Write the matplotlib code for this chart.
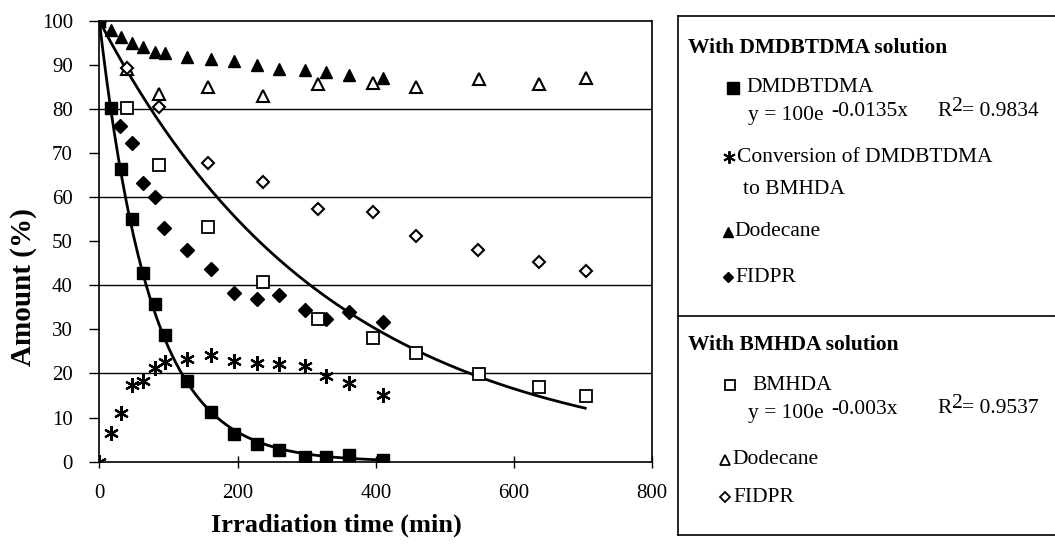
import numpy as np
import matplotlib
matplotlib.use("Agg")
import matplotlib.pyplot as plt
from matplotlib.lines import Line2D

plt.rcParams['font.family'] = ['Liberation Serif', 'DejaVu Serif']

# ---- data ----
t_dmd = [0, 16.5, 31, 47, 63.7, 80.6, 95, 126.5, 162, 195, 228, 260.5, 298, 328, 361, 410]
dmdbtdma = [100, 80.3, 66.4, 55.0, 42.7, 35.8, 28.7, 18.4, 11.3, 6.3, 4.0, 2.7, 1.1, 1.1, 1.5, 0.4]
conversion = [0, 6.4, 11.1, 17.4, 18.4, 21.2, 22.5, 23.2, 24.2, 22.8, 22.3, 22.2, 21.7, 19.4, 17.9, 15.1]
dodecane_dmd = [100, 98.0, 96.4, 94.9, 94.0, 92.9, 92.6, 91.7, 91.4, 90.9, 89.9, 89.1, 88.8, 88.4, 87.7, 86.9]
t_fid = [0, 30, 47, 63, 80.6, 93.6, 126.5, 161.6, 195, 227.8, 260.5, 297.7, 328, 361, 410]
fidpr_dmd = [100, 76.1, 72.3, 63.3, 60.0, 52.9, 48.0, 43.8, 38.2, 37.0, 37.9, 34.5, 32.3, 34.0, 31.7]

t_bm = [0, 39.6, 86.8, 157.7, 236.4, 317, 396.5, 458, 549.5, 636.3, 704]
bmhda = [100, 80.1, 67.3, 53.3, 40.8, 32.3, 28.0, 24.6, 19.9, 16.9, 15.0]
dodecane_bm = [100, 89.0, 83.4, 84.9, 82.9, 85.6, 85.9, 85.0, 86.7, 85.6, 86.9]
t_bm_fid = [0, 39.6, 86.8, 157.7, 236.4, 317, 396.5, 458, 548.5, 636.3, 704]
fidpr_bm = [100, 89.2, 80.5, 67.7, 63.5, 57.3, 56.7, 51.2, 48.0, 45.2, 43.3]

# exponential fit coefficients (y = A e^{k x}) and range drawn
fit_A = [100, 100]
fit_k = [-0.0135, -0.003]
fit_xmax = [415, 703]

x_ticks = [0, 200, 400, 600, 800]
y_ticks = [0, 10, 20, 30, 40, 50, 60, 70, 80, 90, 100]

W, H = 1055, 545
fig = plt.figure(figsize=(W / 100, H / 100), dpi=100)
def fx(px): return px / W
def fy(py): return 1 - py / H

ax_l, ax_r, ax_t, ax_b = 99.3, 652.3, 20.7, 461.7
ax = fig.add_axes([fx(ax_l), fy(ax_b), fx(ax_r) - fx(ax_l), fy(ax_t) - fy(ax_b)])
ax.set_xlim(0, 800)
ax.set_ylim(0, 100)

for g in [20, 40, 60, 80]:
    ax.axhline(g, color='black', lw=1.0, zorder=1)

# fits
for A, k, xm in zip(fit_A, fit_k, fit_xmax):
    xx = np.linspace(0, xm, 300)
    ax.plot(xx, A * np.exp(k * xx), color='black', lw=2.0, zorder=2)

ast = (6, 2, 0)
ax.plot(t_dmd, conversion, ls='none', marker=ast, ms=10.5, mec='black', mew=1.6, zorder=3)
ax.plot(t_dmd, dodecane_dmd, ls='none', marker='^', ms=9, mfc='black', mec='black', zorder=3)
ax.plot(t_fid, fidpr_dmd, ls='none', marker='D', ms=7, mfc='black', mec='black', zorder=3)
ax.plot(t_bm, dodecane_bm, ls='none', marker='^', ms=8, mfc='white', mec='black', mew=1.5, zorder=3)
ax.plot(t_bm_fid, fidpr_bm, ls='none', marker='D', ms=6.5, mfc='white', mec='black', mew=1.5, zorder=3)
ax.plot(t_bm, bmhda, ls='none', marker='s', ms=8.5, mfc='white', mec='black', mew=1.3, zorder=3)
ax.plot(t_dmd, dmdbtdma, ls='none', marker='s', ms=9, mfc='black', mec='black', zorder=4)

ax.set_xticks(x_ticks)
ax.set_yticks(y_ticks)
ax.tick_params(axis='y', direction='out', length=7, width=1, labelsize=15, pad=12)
ax.tick_params(axis='x', direction='inout', length=8, width=1, labelsize=15, pad=12)
for s in ax.spines.values():
    s.set_linewidth(1.2)
    s.set_color('black')

ax.set_xlabel('Irradiation time (min)', fontsize=19, fontweight='bold')
ax.xaxis.set_label_coords((336 - ax_l) / (ax_r - ax_l), (ax_b - 525) / (ax_b - ax_t))
ax.xaxis.label.set_va('center')
ax.set_ylabel('Amount (%)', fontsize=21, fontweight='bold')
ax.yaxis.set_label_coords((24 - ax_l) / (ax_r - ax_l), (ax_b - 287) / (ax_b - ax_t))
ax.yaxis.label.set_va('center')

# ---- legend panel ----
box_l, box_t, box_div, box_b = 677.7, 16, 316, 535
for (x0, y0, x1, y1) in [(box_l, box_t, W + 5, box_t), (box_l, box_t, box_l, box_b),
                         (box_l, box_div, W + 5, box_div), (box_l, box_b, W + 5, box_b)]:
    fig.add_artist(Line2D([fx(x0), fx(x1)], [fy(y0), fy(y1)], transform=fig.transFigure,
                          color='black', lw=1.2))

fs = 15.5
def txt(px, py, s, va='center', **kw):
    fig.text(fx(px), fy(py), s, va=va, ha='left', fontsize=kw.pop('fontsize', fs), **kw)

def mark(px, py, **kw):
    fig.add_artist(Line2D([fx(px)], [fy(py)], transform=fig.transFigure, ls='none', **kw))

efs = 15.5
txt(688, 48, 'With DMDBTDMA solution', fontweight='bold')
mark(733, 88, marker='s', ms=8, mfc='black', mec='black')
txt(746, 88, 'DMDBTDMA')
txt(748, 120, 'y = 100e', va='baseline', fontsize=efs)
txt(831, 115.7, '-0.0135x', va='baseline', fontsize=efs)
txt(937, 115.7, 'R', va='baseline', fontsize=efs)
txt(952, 111, '2', va='baseline', fontsize=efs)
txt(962, 115.7, '= 0.9834', va='baseline', fontsize=efs)
mark(729, 157, marker=ast, ms=9, mec='black', mew=1.4)
txt(737, 157, 'Conversion of DMDBTDMA')
txt(743, 190, 'to BMHDA')
mark(728, 232, marker='^', ms=7, mfc='black', mec='black')
txt(734, 232, 'Dodecane')
mark(728, 277, marker='D', ms=5, mfc='black', mec='black')
txt(735, 277, 'FIDPR')

txt(688, 345, 'With BMHDA solution', fontweight='bold')
mark(730, 385, marker='s', ms=7, mfc='white', mec='black', mew=1.3)
txt(752, 385, 'BMHDA')
txt(748, 418, 'y = 100e', va='baseline', fontsize=efs)
txt(831, 413.7, '-0.003x', va='baseline', fontsize=efs)
txt(937, 412.7, 'R', va='baseline', fontsize=efs)
txt(952, 408, '2', va='baseline', fontsize=efs)
txt(962, 412.7, '= 0.9537', va='baseline', fontsize=efs)
mark(725, 460, marker='^', ms=6.5, mfc='white', mec='black', mew=1.3)
txt(732, 460, 'Dodecane')
mark(725, 497, marker='D', ms=5, mfc='white', mec='black', mew=1.3)
txt(733, 497, 'FIDPR')

fig.savefig('out.png', dpi=100)
